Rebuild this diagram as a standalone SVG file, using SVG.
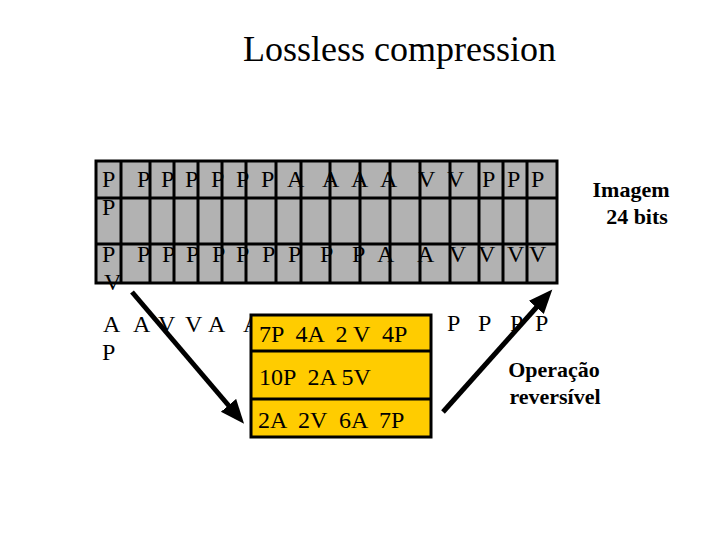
<svg xmlns="http://www.w3.org/2000/svg" width="720" height="540" viewBox="0 0 720 540">
<style>
.t{font-family:"Liberation Serif","Times New Roman",serif;font-size:24px;fill:#000}
.title{font-family:"Liberation Serif","Times New Roman",serif;font-size:36px;fill:#000}
.b{font-family:"Liberation Serif","Times New Roman",serif;font-size:22px;font-weight:bold;fill:#000}
.grid{stroke:#000;stroke-width:3;fill:none}
.conn{stroke:#000;stroke-width:5;fill:none}
</style>
<defs>
<marker id="ah" markerUnits="userSpaceOnUse" markerWidth="26" markerHeight="22" refX="10" refY="10" orient="auto">
<path d="M0,0 L24,10 L0,20 z" fill="#000"/>
</marker>
</defs>
<rect width="720" height="540" fill="#fff"/>
<text class="title" x="243" y="61">Lossless compression</text>

<g id="image-grid">
<rect x="96" y="161" width="461" height="122" fill="#b2b2b2"/>
<path class="grid" d="M96,161H557V283H96Z M96,198H557 M96,244H557 M121,161V283 M150,161V283 M174,161V283 M198,161V283 M222,161V283 M246,161V283 M276,161V283 M301,161V283 M330,161V283 M360,161V283 M390,161V283 M420,161V283 M450,161V283 M479,161V283 M503,161V283 M527,161V283"/>
<text class="t" x="102 137 161 185 211 236 261 287 322 351 380 418 447 482 507 531" y="187">PPPPPPPAAAAVVPPP</text>
<text class="t" x="102" y="215">P</text>
<text class="t" x="102 137 162 186 212 236 262 288 320 352 377 417 449 478 507 529" y="262">PPPPPPPPPPAAVVVV</text>
<text class="t" x="104" y="290">V</text>
</g>

<g id="row4-text">
<text class="t" x="103 133 158 185 208 243" y="332">AAVVAA</text>
<text class="t" x="447 478 510 535" y="331">PPPP</text>
<text class="t" x="102" y="360">P</text>
</g>

<g id="compressed-box">
<rect x="251" y="315" width="180" height="122" fill="#ffcc00" stroke="#000" stroke-width="3"/>
<path d="M251,351H431 M251,399H431" stroke="#000" stroke-width="3"/>
<text class="t" x="259" y="342" xml:space="preserve">7P  4A  2 V  4P</text>
<text class="t" x="259" y="385" xml:space="preserve">10P  2A 5V</text>
<text class="t" x="258" y="428" xml:space="preserve">2A  2V  6A  7P</text>
</g>

<g id="label-image">
<text class="b" x="631" y="197" text-anchor="middle">Imagem</text>
<text class="b" x="637" y="224" text-anchor="middle">24 bits</text>
</g>

<g id="label-operation">
<text class="b" x="554" y="377" text-anchor="middle">Operação</text>
<text class="b" x="555" y="404" text-anchor="middle">reversível</text>
</g>

<g id="connectors">
<line class="conn" x1="132" y1="292" x2="235" y2="413" marker-end="url(#ah)"/>
<line class="conn" x1="443" y1="412" x2="543" y2="300" marker-end="url(#ah)"/>
</g>
</svg>
